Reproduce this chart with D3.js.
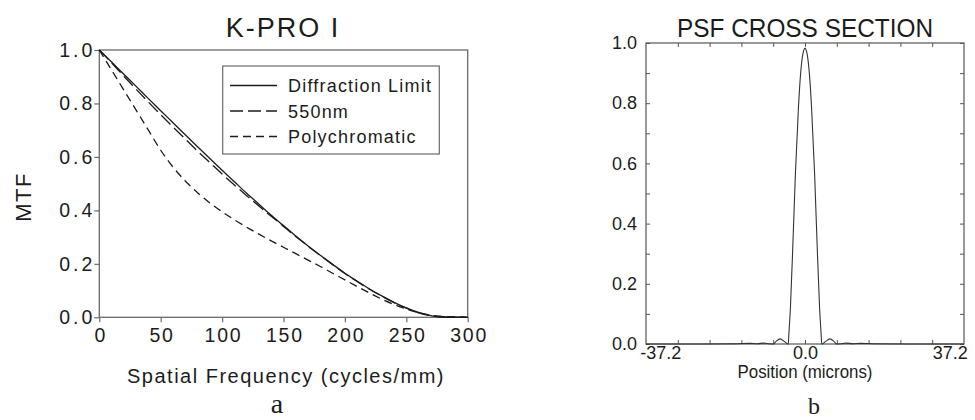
<!DOCTYPE html>
<html>
<head>
<meta charset="utf-8">
<script src="https://cdn.jsdelivr.net/npm/d3@7"></script>
<style>
  body { margin: 0; background: #fff; }
  svg { display: block; }
</style>
</head>
<body>
<div id="chart"></div>
<script>
// ---- data: panel a (MTF) ----
const freq = [0, 10, 20, 30, 40, 50, 60, 70, 80, 90, 100, 110, 120, 130, 140, 150,
  160, 170, 180, 190, 200, 210, 220, 230, 240, 250, 260, 270, 280, 290, 300];
const diffLimit = [1.0, 0.955, 0.909, 0.864, 0.818, 0.773, 0.728, 0.683, 0.638, 0.594, 0.550,
  0.507, 0.464, 0.423, 0.382, 0.343, 0.304, 0.267, 0.232, 0.198, 0.165, 0.135, 0.106,
  0.080, 0.056, 0.035, 0.018, 0.006, 0.0, 0.0, 0.0];
const mono550 = [1.0, 0.952, 0.902, 0.853, 0.805, 0.758, 0.712, 0.667, 0.622, 0.579, 0.536,
  0.495, 0.455, 0.416, 0.378, 0.340, 0.302, 0.266, 0.231, 0.197, 0.164, 0.134, 0.105,
  0.079, 0.055, 0.034, 0.017, 0.006, 0.002, 0.001, 0.0];
const polychrom = [1.0, 0.925, 0.85, 0.775, 0.70, 0.625, 0.562, 0.51, 0.466, 0.428, 0.395,
  0.365, 0.337, 0.311, 0.286, 0.262, 0.238, 0.214, 0.19, 0.165, 0.14, 0.115, 0.091,
  0.068, 0.048, 0.031, 0.017, 0.008, 0.003, 0.002, 0.001];
const freqTicks = [0, 50, 100, 150, 200, 250, 300];
const mtfTicks = [0, 0.2, 0.4, 0.6, 0.8, 1.0];
const seriesNames = ["Diffraction Limit", "550nm", "Polychromatic"];

// ---- data: panel b (PSF cross section) ----
const psfPos = [-46.5, -30, -20, -16, -14, -12, -10.5, -9.3, -8.5, -7.3, -6, -5.2, -4.9,
  -4.7, -4.25, -3.5, -2.8, -1.9, -1.27, -0.6, 0, 0.6, 1.27, 1.9, 2.8, 3.5, 4.25, 4.7,
  4.9, 5.2, 6, 7.3, 8.5, 9.3, 10.5, 12, 14, 16, 20, 30, 46.5];
const psfVal = [0, 0, 0.001, 0.002, 0.001, 0.003, 0.001, 0.0, 0.008, 0.017, 0.008, 0.001, 0,
  0.036, 0.124, 0.345, 0.567, 0.79, 0.90, 0.965, 0.982, 0.965, 0.90, 0.79, 0.567, 0.345,
  0.124, 0.036, 0, 0.001, 0.008, 0.017, 0.008, 0.0, 0.001, 0.003, 0.001, 0.002, 0.001, 0, 0];
const posTicks = [-37.2, -27.9, -18.6, -9.3, 0, 9.3, 18.6, 27.9, 37.2];
const posLabels = { "-37.2": "-37.2", "0": "0.0", "37.2": "37.2" };
const psfMajor = [0, 0.2, 0.4, 0.6, 0.8, 1.0];
const psfMinor = [0.1, 0.3, 0.5, 0.7, 0.9];

const sans = "'Liberation Sans', Arial, sans-serif";
const serif = "'Liberation Serif', 'Times New Roman', serif";
const ink = "#1c1c1c", frame = "#6a6a6a";

const svg = d3.select("#chart").append("svg")
  .attr("width", 975).attr("height", 420);

/*******************************************************
* Panel a : MTF
*******************************************************/
const xA = d3.scaleLinear().domain([0, 300]).range([99.3, 467.7]);
const yA = d3.scaleLinear().domain([0, 1]).range([317.3, 50]);
const gA = svg.append("g");

const axA = gA.append("g")
  .attr("transform", `translate(0,${yA(0)})`)
  .call(d3.axisBottom(xA).tickValues(freqTicks).tickSize(5).tickPadding(6).tickFormat(d3.format("d")));
const ayA = gA.append("g")
  .attr("transform", `translate(${xA(0)},0)`)
  .call(d3.axisLeft(yA).tickValues(mtfTicks).tickSize(5).tickPadding(2).tickFormat(d3.format(".1f")));
[axA, ayA].forEach(a => {
  a.select(".domain").remove();
  a.selectAll("line").attr("stroke", frame).attr("stroke-width", 1.2);
  a.selectAll("text").attr("fill", ink).style("font-family", sans).style("font-size", "19.5px");
});
axA.selectAll("text").style("letter-spacing", "1.8px").attr("dx", "0.9px");
ayA.selectAll("text").style("letter-spacing", "3px").attr("dx", "3px");

gA.append("rect")
  .attr("x", xA(0)).attr("y", yA(1))
  .attr("width", xA(300) - xA(0)).attr("height", yA(0) - yA(1))
  .attr("fill", "none").attr("stroke", frame).attr("stroke-width", 1.3);

const lineA = ys => d3.line()
  .x((d, i) => xA(freq[i]))
  .y(d => yA(d))
  .curve(d3.curveMonotoneX)(ys);

const styles = [
  { data: diffLimit, dash: null },
  { data: mono550, dash: "13,5" },
  { data: polychrom, dash: "8,5" }
];
styles.forEach(s => {
  gA.append("path")
    .attr("d", lineA(s.data))
    .attr("fill", "none").attr("stroke", ink).attr("stroke-width", 1.3)
    .attr("stroke-dasharray", s.dash);
});

// legend
const leg = gA.append("g");
leg.append("rect").attr("x", 222.7).attr("y", 66).attr("width", 216.6).attr("height", 88)
  .attr("fill", "#fff").attr("stroke", frame).attr("stroke-width", 1.2);
seriesNames.forEach((name, i) => {
  const yy = 85.5 + i * 25.5;
  leg.append("line").attr("x1", 230).attr("x2", 277).attr("y1", yy).attr("y2", yy)
    .attr("stroke", ink).attr("stroke-width", 1.3).attr("stroke-dasharray", styles[i].dash);
  leg.append("text").attr("x", 288).attr("y", yy + 6.5).text(name)
    .attr("fill", ink).style("font-family", sans).style("font-size", "18px")
    .style("letter-spacing", "1.2px");
});

gA.append("text").attr("x", 283).attr("y", 37).attr("text-anchor", "middle").text("K-PRO I")
  .attr("fill", ink).style("font-family", sans).style("font-size", "27px").style("letter-spacing", "2px");
gA.append("text").attr("x", 286).attr("y", 383).attr("text-anchor", "middle")
  .text("Spatial Frequency (cycles/mm)")
  .attr("fill", ink).style("font-family", sans).style("font-size", "20px").style("letter-spacing", "1.5px");
gA.append("text").attr("transform", "translate(31,197) rotate(-90)").attr("text-anchor", "middle")
  .text("MTF").attr("fill", ink).style("font-family", sans).style("font-size", "22px")
  .style("letter-spacing", "1.5px");
gA.append("text").attr("x", 277).attr("y", 413).attr("text-anchor", "middle").text("a")
  .attr("fill", ink).style("font-family", serif).style("font-size", "28px");

/*******************************************************
* Panel b : PSF cross section
*******************************************************/
const xB = d3.scaleLinear().domain([-46.5, 46.5]).range([646, 964]);
const yB = d3.scaleLinear().domain([0, 1]).range([344, 43]);
const gB = svg.append("g");

const axes = [
  gB.append("g").attr("transform", `translate(${xB(-46.5)},0)`)
    .call(d3.axisLeft(yB).tickValues(psfMajor).tickSize(-4).tickPadding(9).tickFormat(d3.format(".1f"))),
  gB.append("g").attr("transform", `translate(${xB(-46.5)},0)`)
    .call(d3.axisLeft(yB).tickValues(psfMinor).tickSize(-4).tickFormat("")),
  gB.append("g").attr("transform", `translate(${xB(46.5)},0)`)
    .call(d3.axisRight(yB).tickValues(psfMajor.concat(psfMinor)).tickSize(-4).tickFormat("")),
  gB.append("g").attr("transform", `translate(0,${yB(1)})`)
    .call(d3.axisTop(xB).tickValues(posTicks).tickSize(-4).tickFormat("")),
  gB.append("g").attr("transform", `translate(0,${yB(0)})`)
    .call(d3.axisBottom(xB).tickValues(posTicks).tickSize(-4).tickPadding(2)
      .tickFormat(d => posLabels[String(d)] || ""))
];
axes.forEach(a => {
  a.select(".domain").remove();
  a.selectAll("line").attr("stroke", "#555").attr("stroke-width", 1);
  a.selectAll("text").attr("fill", ink).style("font-family", sans).style("font-size", "18px");
});
axes[4].selectAll("text")
  .attr("text-anchor", d => d < 0 ? "end" : d > 0 ? "start" : "middle")
  .attr("dx", d => d < 0 ? "3px" : "0px");

gB.append("rect")
  .attr("x", xB(-46.5)).attr("y", yB(1))
  .attr("width", xB(46.5) - xB(-46.5)).attr("height", yB(0) - yB(1))
  .attr("fill", "none").attr("stroke", "#555").attr("stroke-width", 1.2);

gB.append("path")
  .attr("d", d3.line().x((d, i) => xB(psfPos[i])).y(d => yB(d)).curve(d3.curveMonotoneX)(psfVal))
  .attr("fill", "none").attr("stroke", "#333").attr("stroke-width", 1.1);

gB.append("text").attr("x", 805).attr("y", 37).attr("text-anchor", "middle")
  .text("PSF CROSS SECTION").attr("textLength", 256).attr("lengthAdjust", "spacingAndGlyphs")
  .attr("fill", ink).style("font-family", sans).style("font-size", "25.5px");
gB.append("text").attr("x", 805).attr("y", 378).attr("text-anchor", "middle")
  .text("Position (microns)").attr("textLength", 135).attr("lengthAdjust", "spacingAndGlyphs")
  .attr("fill", ink).style("font-family", sans).style("font-size", "18px");
gB.append("text").attr("x", 814).attr("y", 414).attr("text-anchor", "middle").text("b")
  .attr("fill", ink).style("font-family", serif).style("font-size", "24px");
</script>
</body>
</html>
